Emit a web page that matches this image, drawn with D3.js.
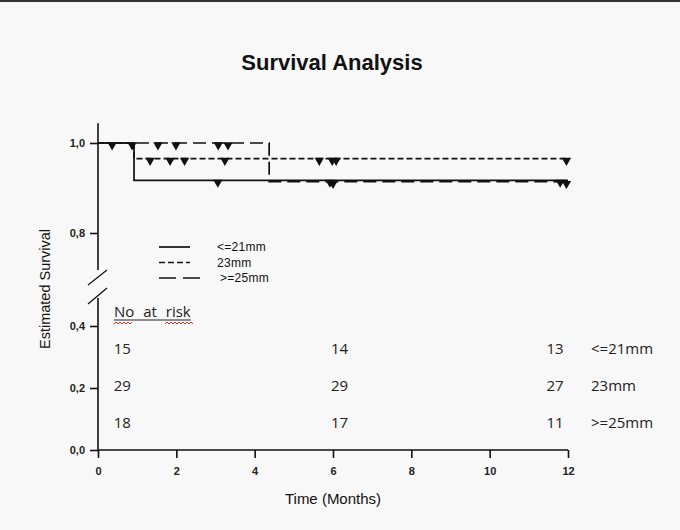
<!DOCTYPE html>
<html>
<head>
<meta charset="utf-8">
<script src="https://cdn.jsdelivr.net/npm/d3@7"></script>
<style>
  html, body { margin: 0; padding: 0; background: #f8f8f8; }
  svg { display: block; }
</style>
</head>
<body>
<svg id="chart" width="680" height="530"></svg>
<script>
// DATA
// Kaplan-Meier steps per group: [time in months, survival]
const groups = ['<=21mm', '23mm', '>=25mm'];
const stepsSmall = [[0, 1], [0.92, 0.917], [12, 0.917]];
const stepsMid = [[0, 1], [0.92, 0.9655], [12, 0.9655]];
const stepsLarge = [[0, 1], [4.37, 0.914], [12, 0.914]];
// censored times per group
const censorSmall = [0.87, 3.06, 5.92, 11.8];
const censorMid = [1.33, 1.84, 2.21, 3.24, 5.65, 5.98, 6.08, 11.96];
const censorLarge = [0.36, 1.53, 1.99, 3.07, 3.32, 6.0, 11.96];
// number at risk table
const riskTimes = [0.4, 5.95, 11.45];
const riskSmall = [15, 14, 13];
const riskMid = [29, 29, 27];
const riskLarge = [18, 17, 11];
const xTicks = [0, 2, 4, 6, 8, 10, 12];
const yTicksUpper = [0.8, 1.0];
const yTicksLower = [0.0, 0.2, 0.4];

const svg = d3.select('#chart');
const fmt = d3.formatLocale({decimal: ',', thousands: '.', grouping: [3], currency: ['', '']}).format('.1f');

// top border of the picture
svg.append('rect').attr('x', 0).attr('y', 0).attr('width', 680).attr('height', 2).attr('fill', '#333');

// scales: the y axis is broken between 0.4 and 0.8
const x = d3.scaleLinear().domain([0, 12]).range([98, 568]);
const yUp = d3.scaleLinear().domain([0.8, 1.0]).range([233, 143]);
const yLo = d3.scaleLinear().domain([0, 0.4]).range([450, 326]);
const y = v => v >= 0.6 ? yUp(v) : yLo(v);

svg.append('text')
  .attr('x', 332).attr('y', 70)
  .attr('text-anchor', 'middle')
  .style('font', 'bold 22px "Liberation Sans", Arial, sans-serif')
  .attr('fill', '#111')
  .text('Survival Analysis');

function styleAxis(g) {
  g.select('.domain').remove();
  g.selectAll('line').attr('stroke', '#111').attr('stroke-width', 1.6);
  g.selectAll('text')
    .style('font', 'bold 11px "Liberation Sans", Arial, sans-serif')
    .attr('fill', '#222');
}

svg.append('g').attr('transform', 'translate(98,0)')
  .call(d3.axisLeft(yUp).tickValues(yTicksUpper).tickFormat(fmt).tickSize(8).tickPadding(5))
  .call(styleAxis);
svg.append('g').attr('transform', 'translate(98,0)')
  .call(d3.axisLeft(yLo).tickValues(yTicksLower).tickFormat(fmt).tickSize(8).tickPadding(5))
  .call(styleAxis);
svg.append('g').attr('transform', 'translate(0,450)')
  .call(d3.axisBottom(x).tickValues(xTicks).tickFormat(d3.format('d')).tickSize(8).tickPadding(9))
  .call(styleAxis);

// axis lines with the break
const axisG = svg.append('g').attr('stroke', '#111').attr('stroke-width', 1.6);
axisG.append('line').attr('x1', x(0)).attr('x2', x(0)).attr('y1', yUp(1.044)).attr('y2', yUp(0.718));
axisG.append('line').attr('x1', x(0)).attr('x2', x(0)).attr('y1', yLo(0.49)).attr('y2', yLo(0));
axisG.append('line').attr('x1', x(0)).attr('x2', x(12)).attr('y1', yLo(0)).attr('y2', yLo(0));
axisG.append('line').attr('x1', 88).attr('y1', 285).attr('x2', 107).attr('y2', 270).attr('stroke-width', 1.2);
axisG.append('line').attr('x1', 88).attr('y1', 304).attr('x2', 107).attr('y2', 288).attr('stroke-width', 1.2);

svg.append('text')
  .attr('transform', 'translate(50,289) rotate(-90)')
  .attr('text-anchor', 'middle')
  .style('font', '14.5px "Liberation Sans", Arial, sans-serif')
  .attr('fill', '#111')
  .text('Estimated Survival');

svg.append('text')
  .attr('x', 333).attr('y', 504)
  .attr('text-anchor', 'middle')
  .style('font', '15px "Liberation Sans", Arial, sans-serif')
  .attr('fill', '#111')
  .text('Time (Months)');

// curves
const dashes = ['none', '6,3', '13,6'];
const allSteps = [stepsSmall, stepsMid, stepsLarge];
const allCensor = [censorSmall, censorMid, censorLarge];
const line = d3.line().x(d => x(d[0])).y(d => y(d[1])).curve(d3.curveStepAfter);

allSteps.forEach((steps, i) => {
  svg.append('path')
    .datum(steps)
    .attr('d', line)
    .attr('fill', 'none')
    .attr('stroke', '#111')
    .attr('stroke-width', 1.7)
    .attr('stroke-dasharray', dashes[i]);
});

// survival value at time t for a step list
function survAt(steps, t) {
  let s = steps[0][1];
  for (let st of steps) {
    if (st[0] <= t) s = st[1];
  }
  return s;
}

const tri = d3.symbol().type(d3.symbolTriangle).size(38);
allCensor.forEach((times, i) => {
  svg.append('g').selectAll('path')
    .data(times)
    .join('path')
    .attr('d', tri)
    .attr('fill', '#111')
    .attr('transform', t => `translate(${x(t)},${y(survAt(allSteps[i], t)) + 2}) rotate(180)`);
});

// legend
const legend = svg.append('g');
const legendLen = [31, 31, 43];
groups.forEach((name, i) => {
  let ly = 247 + i * 15.5;
  legend.append('line')
    .attr('x1', 159).attr('x2', 159 + legendLen[i])
    .attr('y1', ly).attr('y2', ly)
    .attr('stroke', '#111').attr('stroke-width', 1.7)
    .attr('stroke-dasharray', i === 2 ? '17,7' : dashes[i]);
  legend.append('text')
    .attr('x', i === 2 ? 220 : 217).attr('y', ly + 4)
    .style('font', '12px "Liberation Sans", Arial, sans-serif')
    .style('letter-spacing', '0.3px')
    .attr('fill', '#111')
    .text(name);
});

// number at risk table
const tableFont = '15px "Open Sans", sans-serif';
const head = svg.append('text')
  .attr('x', 114).attr('y', 317)
  .style('font', tableFont)
  .style('word-spacing', '5px')
  .attr('fill', '#222')
  .text('No at risk');
let headLen = head.node().getComputedTextLength();
svg.append('line')
  .attr('x1', 114).attr('x2', 114 + headLen)
  .attr('y1', 320).attr('y2', 320)
  .attr('stroke', '#222').attr('stroke-width', 1);

// red spell-check squiggles under "No" and "risk"
function squiggle(x0, x1) {
  let pts = [];
  for (let px = x0, k = 0; px <= x1; px += 2, k++) pts.push([px, k % 2 ? 322 : 324]);
  svg.append('path').attr('d', d3.line()(pts))
    .attr('fill', 'none').attr('stroke', '#e03030').attr('stroke-width', 1);
}
squiggle(114, 133);
squiggle(165, 193);

const riskRows = [riskSmall, riskMid, riskLarge];
riskRows.forEach((row, r) => {
  let ty = 354 + r * 36.8;
  svg.append('g').selectAll('text')
    .data(row)
    .join('text')
    .attr('x', (d, j) => x(riskTimes[j]))
    .attr('y', ty)
    .style('font', tableFont)
    .attr('fill', '#222')
    .text(d => d);
  svg.append('text')
    .attr('x', 591).attr('y', ty)
    .style('font', tableFont)
    .attr('fill', '#222')
    .text(groups[r]);
});
</script>
</body>
</html>
